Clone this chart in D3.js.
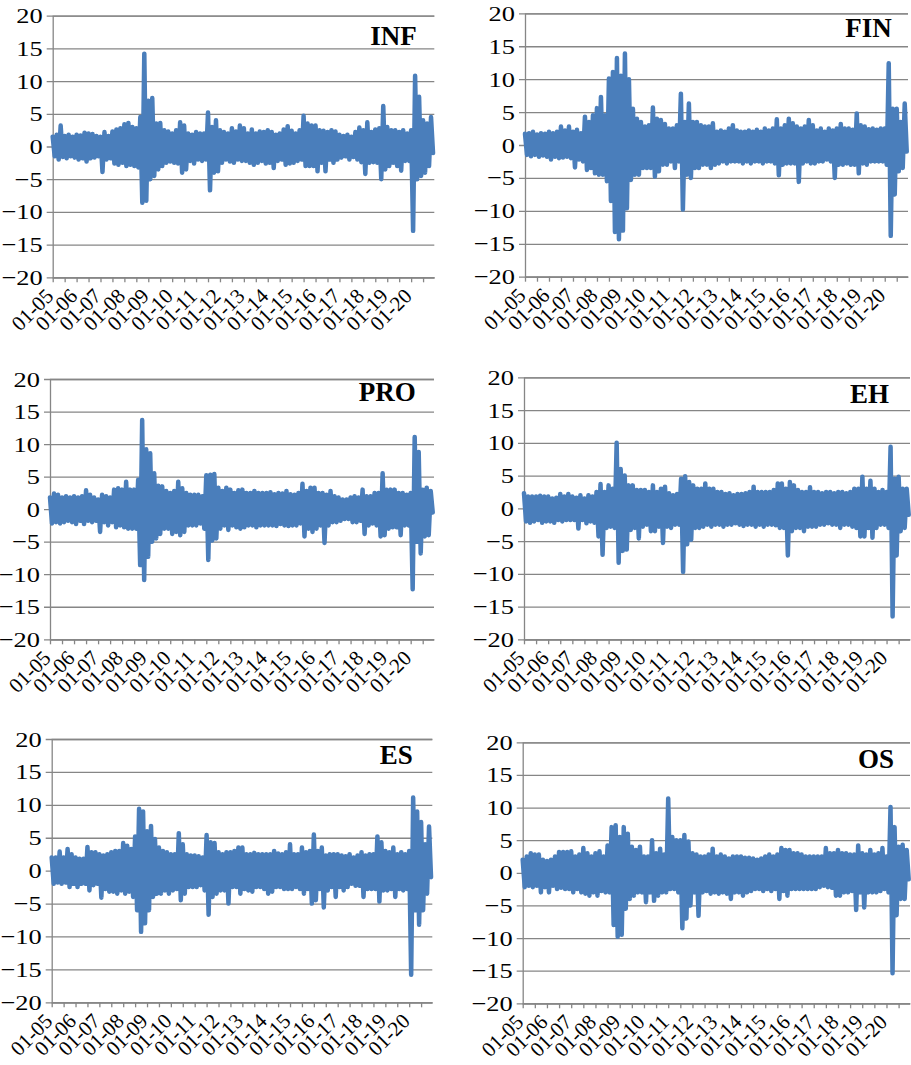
<!DOCTYPE html>
<html>
<head>
<meta charset="utf-8">
<script src="https://cdn.jsdelivr.net/npm/d3@7"></script>
<style>
body{margin:0;background:#fff}
</style>
</head>
<body>
<svg id="chart" width="911" height="1065"></svg>
<script>
// readings: one high and one low every two months, Jan 2005 .. Nov 2020
var startYear = 2005
var endYear = 2020.97
var yTicks = [-20, -15, -10, -5, 0, 5, 10, 15, 20]
var xLabels = ["01-05","01-06","01-07","01-08","01-09","01-10","01-11","01-12",
               "01-13","01-14","01-15","01-16","01-17","01-18","01-19","01-20"]

var infHigh = [1.5,1.8,3.2,1.6,1.8,1.5, 1.8,1.7,2.1,2.0,1.9,1.6, 1.5,2.2,1.6,2.3,2.6,2.8, 3.4,3.6,3.0,2.8,4.5,14.2,
  7.0,7.4,3.5,3.6,2.5,2.3, 2.0,2.5,3.7,3.2,2.0,1.8, 2.2,2.0,2.0,5.2,3.0,4.0, 2.5,2.2,2.0,2.8,2.3,3.2,
  2.8,2.0,2.6,2.0,2.3,2.2, 2.5,2.2,1.8,2.0,2.6,3.1, 2.4,2.0,2.5,4.7,3.5,3.2, 3.2,2.5,2.4,2.2,2.5,2.3,
  1.8,1.6,1.8,1.5,2.2,2.9, 2.5,3.7,2.2,2.6,2.8,6.2, 3.0,2.5,2.5,2.2,2.5,2.0, 2.5,10.8,7.6,4.0,3.5,4.5]
var infLow = [-1.5,-2.0,-1.6,-1.8,-1.5,-1.7, -2.0,-1.8,-2.3,-1.8,-1.7,-1.5, -3.9,-2.0,-1.8,-2.6,-2.8,-2.5, -3.0,-2.8,-3.0,-3.2,-8.6,-8.3,
  -5.0,-4.5,-3.5,-3.0,-2.5,-2.3, -2.5,-2.6,-4.0,-3.5,-2.2,-2.6, -2.0,-2.2,-2.0,-6.7,-4.0,-3.8, -2.5,-2.0,-2.3,-2.5,-2.0,-2.2,
  -2.2,-2.5,-2.8,-2.5,-2.2,-2.6, -2.5,-3.3,-2.2,-2.0,-2.8,-2.6, -2.5,-2.2,-2.0,-3.0,-3.0,-3.0, -3.8,-2.5,-3.8,-2.0,-2.5,-2.0,
  -1.7,-1.5,-2.0,-1.6,-2.0,-2.4, -4.2,-2.5,-2.4,-2.5,-5.0,-3.5, -3.0,-2.5,-3.0,-3.7,-2.2,-2.2, -12.9,-5.0,-4.5,-4.0,-3.0,-1.0]

var finHigh = [1.7,1.8,2.0,1.6,1.8,1.7, 2.0,1.8,2.0,2.8,2.2,2.8, 2.0,2.3,1.8,4.3,3.5,4.5, 5.6,7.3,4.5,10.1,11.1,13.2,
  10.5,13.9,10.0,5.5,4.0,3.5, 2.8,3.0,5.7,4.0,3.8,3.2, 2.5,2.5,3.0,7.8,3.5,6.3, 3.5,3.5,3.0,2.8,2.8,3.3,
  2.0,2.2,2.0,2.5,3.0,2.2, 2.0,2.0,2.2,2.0,2.3,2.0, 2.5,2.2,2.5,3.9,2.5,3.0, 4.0,3.3,2.8,2.5,2.8,3.8,
  3.0,2.2,2.5,2.0,2.5,2.2, 2.5,3.2,2.5,2.5,2.3,4.8, 3.0,2.8,2.4,2.5,2.3,2.5, 2.5,12.4,5.5,5.5,3.5,6.3]
var finLow = [-1.5,-1.7,-1.5,-1.8,-1.6,-1.8, -2.2,-1.8,-2.0,-1.9,-1.8,-2.0, -3.4,-2.2,-2.5,-3.8,-3.5,-4.3, -4.5,-4.5,-5.5,-8.5,-13.2,-14.3,
  -13.0,-9.6,-5.3,-4.5,-4.5,-3.5, -3.5,-3.5,-4.8,-4.0,-3.0,-3.0, -2.5,-3.5,-2.5,-9.8,-4.5,-5.0, -3.5,-3.5,-3.0,-3.0,-3.5,-3.0,
  -2.8,-2.5,-2.8,-2.5,-2.5,-2.5, -2.8,-2.5,-2.8,-2.5,-2.5,-2.8, -2.5,-2.5,-2.8,-4.6,-3.0,-2.8, -2.8,-2.8,-5.6,-2.8,-2.5,-2.8,
  -2.8,-2.5,-2.5,-2.2,-2.5,-5.0, -3.0,-3.0,-2.8,-3.0,-3.0,-4.3, -2.8,-3.0,-2.5,-2.5,-2.5,-2.5, -3.0,-13.8,-7.5,-4.0,-3.5,-1.0]

var proHigh = [1.8,2.4,2.2,1.8,2.0,1.8, 2.0,1.8,2.0,2.9,2.2,1.8, 1.5,2.2,2.0,1.8,3.0,3.2, 3.0,4.2,3.0,3.0,4.5,13.7,
  9.2,8.6,5.5,3.6,3.5,2.8, 2.5,2.8,4.2,3.2,2.5,2.2, 2.2,2.2,2.0,5.2,5.3,5.4, 3.3,2.8,3.3,3.0,2.5,2.9,
  3.0,2.5,2.5,2.8,2.5,2.5, 2.5,2.6,2.3,2.5,2.4,2.8, 2.3,2.2,2.5,3.9,2.8,3.3, 3.3,2.5,2.5,2.2,2.8,2.0,
  1.8,1.5,1.5,1.8,2.0,1.8, 3.0,2.0,2.0,2.5,2.5,5.5, 3.0,3.0,3.0,2.5,2.5,2.2, 2.5,11.1,8.8,3.0,3.3,2.8]
var proLow = [-2.2,-2.0,-2.2,-2.0,-1.8,-2.0, -2.3,-1.8,-2.3,-1.8,-2.0,-1.8, -3.5,-2.0,-2.5,-2.0,-2.8,-2.5, -2.8,-3.0,-3.0,-3.0,-8.6,-10.9,
  -7.3,-5.0,-4.5,-3.8,-3.0,-3.0, -3.8,-3.5,-4.0,-3.5,-2.5,-2.5, -2.5,-2.2,-3.0,-7.8,-4.8,-4.5, -3.0,-2.5,-3.2,-2.5,-2.8,-3.0,
  -2.8,-2.5,-2.5,-2.8,-2.5,-2.5, -2.5,-2.5,-2.6,-2.3,-2.5,-2.6, -2.5,-2.5,-2.2,-4.2,-3.0,-3.5, -3.0,-2.5,-5.2,-2.5,-2.0,-2.0,
  -1.8,-1.5,-1.5,-2.0,-2.0,-1.8, -3.8,-2.5,-2.2,-2.5,-4.2,-4.0, -3.0,-2.8,-2.8,-4.0,-2.5,-2.5, -12.3,-5.0,-6.8,-4.2,-4.0,-0.5]

var ehHigh = [2.3,1.8,1.8,1.8,1.9,1.8, 1.8,1.5,1.6,2.2,1.8,2.2, 1.8,1.6,2.0,1.5,2.0,1.8, 2.5,3.7,2.5,3.5,3.0,10.0,
  6.0,5.0,3.5,3.5,2.8,2.8, 2.8,2.5,3.5,2.5,3.0,3.3, 2.3,2.0,2.2,4.5,4.9,4.0, 3.5,3.0,3.0,3.8,3.0,3.0,
  2.5,2.5,2.2,2.3,2.0,2.2, 2.2,2.3,2.5,3.3,2.5,2.5, 2.5,2.5,2.8,3.8,3.8,3.0, 4.0,3.5,2.8,2.5,2.5,3.2,
  2.5,2.5,2.3,2.5,2.5,2.3, 2.5,2.5,2.3,2.5,3.0,3.0, 4.8,3.0,4.2,3.0,2.5,2.8, 2.5,9.4,4.5,4.8,3.0,3.0]
var ehLow = [-2.0,-2.2,-2.0,-1.8,-2.2,-2.0, -2.0,-2.2,-1.8,-2.0,-1.8,-1.8, -1.8,-3.1,-1.8,-2.3,-2.0,-2.2, -4.3,-7.1,-3.0,-2.8,-3.0,-8.3,
  -6.5,-6.3,-3.3,-3.0,-4.6,-2.8, -2.5,-3.5,-3.5,-2.8,-5.3,-2.8, -3.0,-2.5,-2.5,-9.7,-5.5,-4.8, -3.0,-3.0,-2.8,-2.5,-2.8,-2.5,
  -2.5,-2.8,-2.5,-2.5,-2.3,-2.5, -2.7,-2.5,-2.5,-2.8,-2.5,-2.8, -2.5,-2.5,-2.6,-3.0,-3.0,-7.2, -3.5,-3.0,-3.0,-3.5,-2.8,-2.8,
  -2.8,-2.5,-2.5,-2.3,-2.5,-2.5, -3.0,-2.5,-2.5,-2.8,-3.0,-4.3, -4.3,-3.0,-4.5,-3.0,-2.5,-2.5, -3.0,-16.5,-7.2,-3.5,-3.0,-1.0]

var esHigh = [2.0,2.0,2.9,2.0,3.3,2.5, 2.0,1.8,1.8,3.6,2.8,2.8, 2.5,2.3,2.5,2.8,3.0,3.0, 4.2,3.8,3.3,5.2,9.4,9.0,
  6.0,6.8,4.8,3.5,3.0,2.8, 2.5,2.5,5.7,4.0,2.5,2.3, 2.3,2.2,2.0,5.4,4.3,4.2, 2.8,2.5,2.8,2.8,3.0,3.5,
  3.5,2.5,2.5,2.7,2.5,2.5, 2.5,2.5,3.0,2.6,2.5,2.8, 4.0,2.5,2.5,3.5,2.8,3.0, 5.5,3.0,3.5,2.3,2.5,2.5,
  2.5,2.3,2.2,2.5,2.0,2.3, 2.8,2.3,2.5,2.5,5.2,4.3, 3.0,2.8,3.5,2.5,2.8,2.5, 3.0,11.1,9.0,7.4,4.0,6.7]
var esLow = [-2.0,-1.8,-2.0,-1.8,-2.5,-2.0, -2.5,-2.0,-2.0,-3.0,-2.2,-2.0, -4.1,-2.8,-3.2,-3.2,-3.5,-3.0, -3.5,-3.2,-4.0,-6.0,-9.3,-8.0,
  -6.0,-4.0,-3.5,-3.5,-3.0,-3.5, -3.0,-2.8,-4.5,-3.5,-2.5,-2.5, -2.5,-2.2,-3.0,-6.7,-4.0,-3.5, -3.0,-3.0,-5.0,-2.5,-2.5,-3.5,
  -2.8,-3.0,-3.2,-2.5,-2.5,-2.8, -3.5,-3.2,-2.5,-2.5,-2.8,-2.8, -2.8,-2.5,-2.8,-3.5,-2.8,-5.0, -4.5,-2.8,-5.6,-3.0,-2.5,-4.0,
  -2.5,-3.0,-2.5,-2.0,-2.3,-2.3, -4.0,-2.8,-2.8,-2.8,-4.7,-3.0, -3.0,-2.8,-4.0,-2.8,-3.0,-2.8, -15.8,-6.0,-8.2,-6.0,-3.5,-1.0]

var osHigh = [2.0,2.5,3.0,2.8,2.8,2.0, 1.8,2.0,2.5,3.2,3.2,3.2, 3.3,2.5,2.8,3.8,3.0,2.5, 3.0,3.3,2.5,4.2,7.0,7.3,
  5.5,7.0,6.0,4.0,3.5,4.0, 2.5,2.5,5.0,3.0,3.7,2.8, 11.4,5.5,5.0,5.0,5.8,4.8, 3.0,2.8,2.5,2.5,2.8,3.7,
  2.5,2.8,2.5,2.2,2.5,2.5, 2.5,2.3,2.3,2.2,2.0,2.2, 2.5,2.8,2.5,2.8,3.8,3.5, 3.5,3.0,3.0,2.8,2.5,2.5,
  2.5,2.5,2.5,3.8,3.0,3.0, 3.5,3.0,3.0,2.8,2.8,4.2, 3.0,2.8,3.5,2.8,3.0,3.8, 2.5,10.1,7.0,4.0,4.3,3.5]
var osLow = [-2.2,-2.0,-2.2,-2.0,-3.0,-2.2, -3.0,-2.0,-2.5,-2.3,-2.5,-2.5, -3.0,-2.5,-3.0,-3.2,-3.5,-3.0, -3.5,-2.8,-3.0,-3.0,-8.0,-9.8,
  -9.5,-5.5,-4.0,-3.5,-3.0,-3.0, -4.5,-3.0,-4.3,-3.5,-3.0,-3.0, -2.5,-2.5,-3.0,-8.5,-7.0,-5.0, -3.0,-6.6,-3.0,-2.8,-3.2,-3.0,
  -3.2,-3.0,-3.2,-4.0,-3.0,-3.0, -3.5,-3.0,-2.8,-2.5,-2.5,-2.8, -2.5,-2.8,-2.5,-4.0,-2.8,-3.5, -2.5,-2.5,-2.5,-2.5,-2.5,-2.5,
  -2.5,-2.2,-2.0,-2.2,-2.3,-3.5, -3.5,-3.0,-3.0,-2.8,-5.7,-3.0, -5.3,-3.0,-3.0,-3.0,-2.8,-2.5, -3.0,-15.4,-6.5,-4.0,-4.0,-1.0]

// panel frames (pixel layout of the six small charts)
var panels = [
  {name:"INF", high:infHigh, low:infLow, left:52.7, right:434.3, top:15.7,  bottom:277.3,  tx:416.7, ty:45},
  {name:"FIN", high:finHigh, low:finLow, left:525,  right:908,   top:13.3,  bottom:276.7,  tx:891.7, ty:37},
  {name:"PRO", high:proHigh, low:proLow, left:50,   right:434,   top:379,   bottom:639.3,  tx:415.7, ty:401},
  {name:"EH",  high:ehHigh,  low:ehLow,  left:524,  right:910,   top:377.3, bottom:639.3,  tx:889,   ty:403.3},
  {name:"ES",  high:esHigh,  low:esLow,  left:51.7, right:432.3, top:739,   bottom:1002.3, tx:412.7, ty:764.3},
  {name:"OS",  high:osHigh,  low:osLow,  left:522.7,right:910,   top:742.3, bottom:1003.3, tx:894,   ty:767.7}
]

var serif = "'Liberation Serif', 'Times New Roman', serif"
var gridColor = "#868686"
var lineColor = "#4a7ebb"
var labelStretch = 1.2   // y labels in the picture are drawn wide

var svg = d3.select("#chart")

var build_series = function(high, low){
  var pts = []
  high.forEach(function(h, i){
    pts.push({t: startYear + i/6, v: h})
    pts.push({t: startYear + i/6 + 1/12, v: low[i]})
  })
  return pts
}

panels.forEach(function(p){
  var x = d3.scaleLinear().domain([startYear, endYear]).range([p.left, p.right])
  var y = d3.scaleLinear().domain([-20, 20]).range([p.bottom, p.top])
  var g = svg.append("g").attr("class", "panel").attr("font-family", serif)

  // y axis with gridlines
  var yAxis = g.append("g")
      .attr("transform", "translate(" + p.left + ",0)")
      .call(d3.axisLeft(y).tickValues(yTicks).tickSize(-(p.right - p.left)).tickPadding(10).tickFormat(d3.format("d")))
      .attr("font-family", serif)
      .attr("font-size", 22)
  yAxis.select(".domain").attr("stroke", gridColor).attr("stroke-width", 1.3)
  yAxis.selectAll(".tick line").attr("x1", -6).attr("stroke", gridColor).attr("stroke-width", 1.3)
  yAxis.selectAll(".tick text")
      .attr("fill", "#000")
      .attr("x", -10 / labelStretch)
      .attr("transform", "scale(" + labelStretch + ",1)")

  // x axis: half-year tick marks, labels every January
  var halfYears = d3.range(0, 32).map(function(i){ return startYear + i/2 })
  var xAxis = g.append("g")
      .attr("transform", "translate(0," + p.bottom + ")")
      .call(d3.axisBottom(x).tickValues(halfYears).tickSize(5).tickSizeOuter(0).tickFormat(""))
  xAxis.select(".domain").attr("stroke", gridColor).attr("stroke-width", 1.3)
  xAxis.selectAll(".tick line").attr("stroke", gridColor).attr("stroke-width", 1.3)

  g.append("g").selectAll("text")
      .data(xLabels)
    .enter().append("text")
      .attr("transform", function(d, i){ return "translate(" + (x(startYear + i) + 2) + "," + (p.bottom + 20) + ") rotate(-45)" })
      .attr("text-anchor", "end")
      .attr("font-family", serif)
      .attr("font-size", 21)
      .text(function(d){ return d })

  // the return series
  var line = d3.line()
      .x(function(d){ return x(d.t) })
      .y(function(d){ return y(d.v) })
  g.append("path")
      .datum(build_series(p.high, p.low))
      .attr("d", line)
      .attr("fill", "none")
      .attr("stroke", lineColor)
      .attr("stroke-width", 4.5)
      .attr("stroke-linejoin", "round")
      .attr("stroke-linecap", "round")

  g.append("text")
      .attr("x", p.tx)
      .attr("y", p.ty)
      .attr("text-anchor", "end")
      .attr("font-family", serif)
      .attr("font-size", 27)
      .attr("font-weight", "bold")
      .text(p.name)
})
</script>
</body>
</html>
